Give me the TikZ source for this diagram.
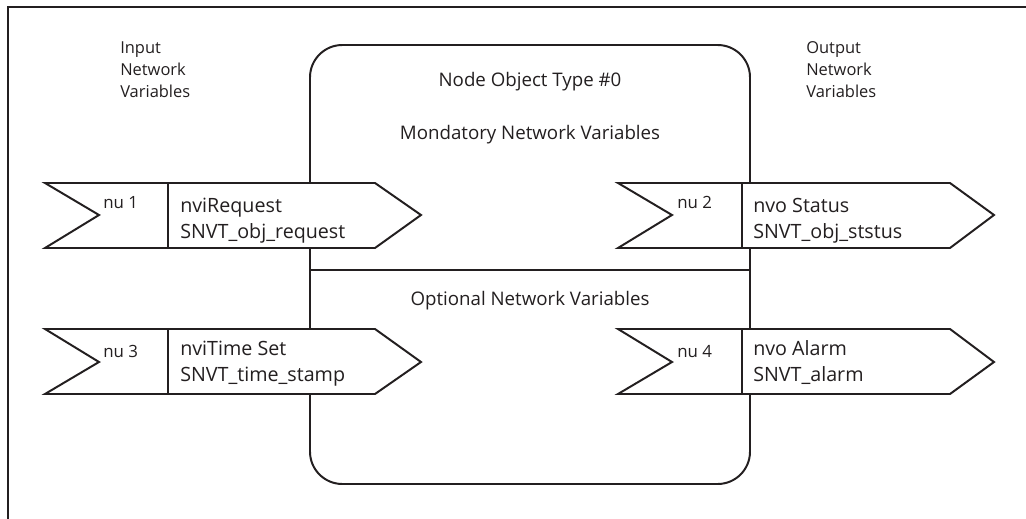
\documentclass[tikz,border=0pt]{standalone}
\usepackage{fontspec}
\setmainfont{Open Sans}
\usepackage{xcolor}
\usetikzlibrary{positioning}
\definecolor{ink}{RGB}{35,31,32}

\begin{document}
\begin{tikzpicture}[
    x=0.025cm, y=-0.025cm,
    frame/.style={draw=ink, line width=0.8pt},
    objbox/.style={draw=ink, line width=1.4pt, rounded corners=23pt},
    nvar/.style={draw=ink, fill=white, line width=1.4pt, line join=miter},
    side/.style={anchor=west, align=left, inner sep=0pt, text=ink, font=\fontsize{11.7}{15.6}\selectfont},
    head/.style={anchor=base, inner sep=0pt, text=ink, font=\fontsize{13.3}{17}\selectfont},
    nunum/.style={anchor=base west, inner sep=0pt, text=ink, font=\fontsize{12}{14}\selectfont},
    vtxt/.style={anchor=base west, align=left, inner sep=0pt, text=ink, font=\fontsize{14}{17.8}\selectfont},
]
    \useasboundingbox (0,0) rectangle (1026,519);
    \draw[frame] (8,519) -- (8,7) -- (1026,7);

    % node object
    \draw[objbox] (310,45) rectangle (750,484);
    \draw[ink, line width=1.4pt] (310,270) -- (750,270);
    \node[head] (title) at (530,87) {Node Object Type \#0};
    \node[head] (mand) at (530,140) {Mondatory Network Variables};
    \node[head] (opt) at (530,305) {Optional Network Variables};

    \node[side] (inp) at (120,70) {Input\\Network\\Variables};
    \node[side] (outp) at (806,70) {Output\\Network\\Variables};

    % input variables
    \draw[nvar] (45,183) -- (375,183) -- (421,215) -- (375,248) -- (45,248) -- (99,215) -- cycle;
    \draw[ink, line width=1.4pt] (168,183) -- (168,248);
    \node[nunum] (nu1) at (103,208) {nu 1};
    \node[vtxt] (nvi1) at (180,238) {nviRequest\\SNVT\_obj\_request};

    \draw[nvar] (45,329) -- (375,329) -- (421,362) -- (375,394) -- (45,394) -- (99,362) -- cycle;
    \draw[ink, line width=1.4pt] (168,329) -- (168,394);
    \node[nunum] (nu3) at (103,357) {nu 3};
    \node[vtxt] (nvi3) at (180,381) {nviTime Set\\SNVT\_time\_stamp};

    % output variables
    \draw[nvar] (618,183) -- (950,183) -- (994,215) -- (950,248) -- (618,248) -- (672,215) -- cycle;
    \draw[ink, line width=1.4pt] (742,183) -- (742,248);
    \node[nunum] (nu2) at (677,208) {nu 2};
    \node[vtxt] (nvo2) at (753,238) {nvo Status\\SNVT\_obj\_ststus};

    \draw[nvar] (618,329) -- (950,329) -- (994,362) -- (950,394) -- (618,394) -- (672,362) -- cycle;
    \draw[ink, line width=1.4pt] (742,329) -- (742,394);
    \node[nunum] (nu4) at (677,357) {nu 4};
    \node[vtxt] (nvo4) at (753,381) {nvo Alarm\\SNVT\_alarm};
\end{tikzpicture}
\end{document}
